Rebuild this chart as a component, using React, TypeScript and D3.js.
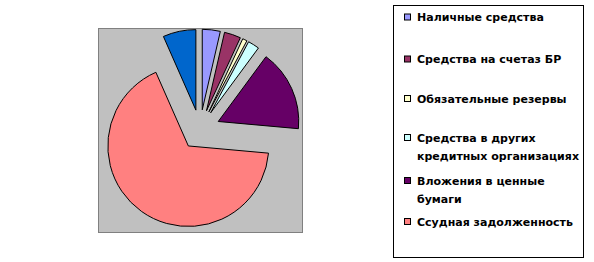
import React from "react";
import * as d3 from "d3";

const categories = [
  "Наличные средства",
  "Средства на счетаз БР",
  "Обязательные резервы",
  "Средства в других кредитных организациях",
  "Вложения в ценные бумаги",
  "Ссудная задолженность",
  "",
];
const legendLines = [
  ["Наличные средства"],
  ["Средства на счетаз БР"],
  ["Обязательные резервы"],
  ["Средства в других", "кредитных организациях"],
  ["Вложения в ценные", "бумаги"],
  ["Ссудная задолженность"],
];
const values = [3.6, 3.3, 0.9, 2.3, 16.3, 66.9, 6.6];
const colors = ["#9999FF", "#993366", "#FFFFCC", "#CCFFFF", "#660066", "#FF8080", "#0066CC"];

const W = 594;
const H = 262;
const plot = { x: 98.5, y: 28.5, w: 204, h: 204 };
const cx = 200;
const cy = 129.7;
const radius = 80.5;
const explode = 20;
const legendBox = { x: 393.5, y: 5.5, w: 190, h: 252 };
const legendY = [17.5, 59.5, 99, 138, 181, 222];
const lineH = 18.5;

export default function App() {
  const pie = d3.pie<number>().sort(null).value((d) => d).startAngle(0).endAngle(2 * Math.PI);
  const arcs = pie(values);
  const arc = d3.arc<d3.PieArcDatum<number>>().innerRadius(0).outerRadius(radius);
  return (
    <svg width={W} height={H} style={{ position: "absolute", left: 0, top: 0, background: "#fff" }}>
      <rect x={plot.x} y={plot.y} width={plot.w} height={plot.h} fill="#C0C0C0" stroke="#808080" strokeWidth={1} />
      {arcs.map((a, i) => {
        const mid = (a.startAngle + a.endAngle) / 2;
        const dx = explode * Math.sin(mid);
        const dy = -explode * Math.cos(mid);
        return (
          <path
            key={i}
            d={arc(a) || ""}
            transform={`translate(${cx + dx},${cy + dy})`}
            fill={colors[i]}
            stroke="#000"
            strokeWidth={1}
            strokeLinejoin="miter"
          >
            <title>{categories[i]}</title>
          </path>
        );
      })}
      <rect x={legendBox.x} y={legendBox.y} width={legendBox.w} height={legendBox.h} fill="#fff" stroke="#000" strokeWidth={1} />
      {legendLines.map((lines, i) => (
        <g key={i}>
          <rect x={404.5} y={legendY[i] - 3.5} width={6} height={6} fill={colors[i]} stroke="#000" strokeWidth={1} />
          {lines.map((t, j) => (
            <text
              key={j}
              x={417}
              y={legendY[i] + j * lineH}
              dy="0.35em"
              fontFamily="DejaVu Sans"
              fontWeight="bold"
              fontSize={11}
              fill="#000"
            >
              {t}
            </text>
          ))}
        </g>
      ))}
    </svg>
  );
}
